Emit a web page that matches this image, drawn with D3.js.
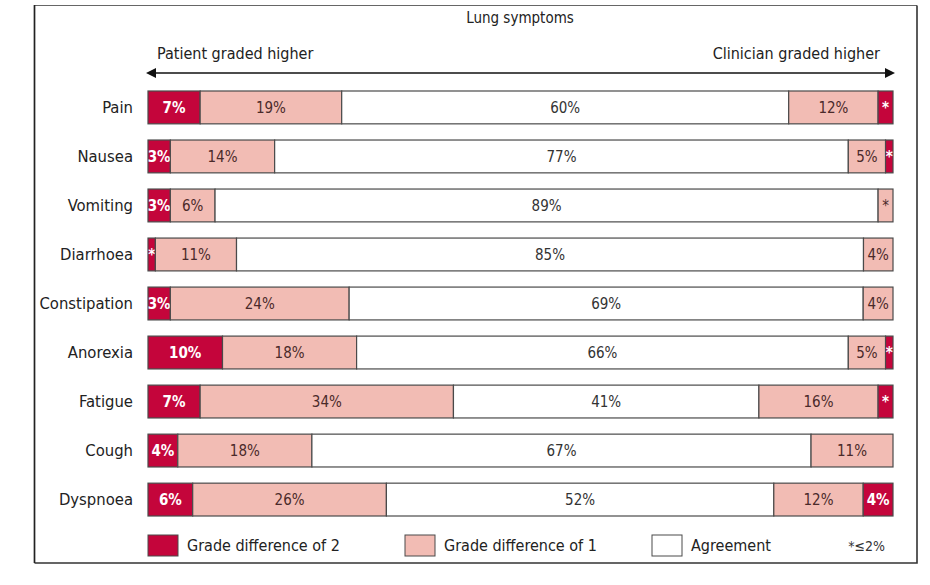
<!DOCTYPE html>
<html><head><meta charset="utf-8">
<script src="https://cdn.jsdelivr.net/npm/d3@7"></script>
<style>
body{margin:0;background:#fff;}
svg text{font-family:"Liberation Sans Narrow","DejaVu Sans Condensed","Liberation Sans",sans-serif;}
</style></head><body>
<svg id="chart" width="930" height="585"></svg>
<script>
const categories = ["Pain","Nausea","Vomiting","Diarrhoea","Constipation","Anorexia","Fatigue","Cough","Dyspnoea"];
const patient2   = [7, 3, 3, 1, 3, 10, 7, 4, 6];
const patient1   = [19, 14, 6, 11, 24, 18, 34, 18, 26];
const agreement  = [60, 77, 89, 85, 69, 66, 41, 67, 52];
const clinician1 = [12, 5, 2, 4, 4, 5, 16, 11, 12];
const clinician2 = [2, 1, 0, 0, 0, 1, 2, 0, 4];
const seriesNames = ["Grade difference of 2","Grade difference of 1","Agreement"];
const title = "Lung symptoms";
const leftNote = "Patient graded higher";
const rightNote = "Clinician graded higher";
const starNote = "*\u22642%";

const colDark = "#c4053b", colLight = "#f2bcb4", colWhite = "#ffffff";
const svg = d3.select("#chart");

svg.append("path").attr("d","M34.5,563 L34.5,5.5 L917,5.5").attr("fill","none").attr("stroke","#666").attr("stroke-width",1.2);
svg.append("path").attr("d","M34.5,563 L917,563 L917,5.5").attr("fill","none").attr("stroke","#333").attr("stroke-width",1.6);
svg.append("line").attr("x1",34.5).attr("x2",34.5).attr("y1",5).attr("y2",563).attr("stroke","#222").attr("stroke-width",1.6);

const x = d3.scaleLinear().domain([0,100]).range([148,893]);
const y = d3.scaleBand().domain(categories).range([91,516]).paddingInner(0.33).paddingOuter(0);

svg.append("text").attr("x",520).attr("y",23).attr("text-anchor","middle")
  .attr("font-size",15).attr("fill","#222").text(title);
svg.append("text").attr("x",157).attr("y",59).attr("font-size",16).attr("fill","#222").text(leftNote);
svg.append("text").attr("x",880).attr("y",59).attr("text-anchor","end").attr("font-size",16).attr("fill","#222").text(rightNote);

// arrow
svg.append("line").attr("x1",x(0)+4).attr("x2",x(100)-4).attr("y1",73).attr("y2",73)
  .attr("stroke","#111").attr("stroke-width",1.5);
svg.append("path").attr("d",`M${x(0)-2},73 L${x(0)+8},68 L${x(0)+8},78 Z`).attr("fill","#111");
svg.append("path").attr("d",`M${x(100)+2},73 L${x(100)-8},68 L${x(100)-8},78 Z`).attr("fill","#111");

const kinds = [
  {vals:patient2, fill:colDark, txt:"#fff", bold:true},
  {vals:patient1, fill:colLight, txt:"#4a2a2a", bold:false},
  {vals:agreement, fill:colWhite, txt:"#333", bold:false},
  {vals:clinician1, fill:colLight, txt:"#4a2a2a", bold:false},
  {vals:clinician2, fill:colDark, txt:"#fff", bold:true}
];

categories.forEach((cat,i)=>{
  const total = d3.sum(kinds, k=>k.vals[i]);
  let cum = 0;
  const g = svg.append("g");
  g.append("text").attr("x",133).attr("y",y(cat)+y.bandwidth()/2).attr("dy","0.35em")
    .attr("text-anchor","end").attr("font-size",16.5).attr("fill","#222").text(cat);
  kinds.forEach(k=>{
    const v = k.vals[i];
    if(v<=0) return;
    const s = cum/total*100, e = (cum+v)/total*100;
    cum += v;
    const x0 = x(s), x1 = x(e);
    g.append("rect").attr("x",x0).attr("y",y(cat)).attr("width",x1-x0).attr("height",y.bandwidth())
      .attr("fill",k.fill).attr("stroke","#4a4a4a").attr("stroke-width",1.2);
    const label = v<=2 ? "*" : v+"%";
    g.append("text").attr("x",(x0+x1)/2).attr("y",y(cat)+y.bandwidth()/2).attr("dy","0.35em")
      .attr("text-anchor","middle").attr("font-size",15)
      .attr("font-weight",k.bold?"bold":"normal").attr("fill",k.txt).text(label);
  });
});

// legend
const legX = [148,405,652];
const legFill = [colDark,colLight,colWhite];
seriesNames.forEach((n,i)=>{
  svg.append("rect").attr("x",legX[i]).attr("y",535).attr("width",30).attr("height",21)
    .attr("fill",legFill[i]).attr("stroke","#4a4a4a").attr("stroke-width",1);
  svg.append("text").attr("x",legX[i]+39).attr("y",551).attr("font-size",16).attr("fill","#222").text(n);
});
svg.append("text").attr("x",885).attr("y",551).attr("text-anchor","end").attr("font-size",14).attr("fill","#333").text(starNote);
</script>
</body></html>
